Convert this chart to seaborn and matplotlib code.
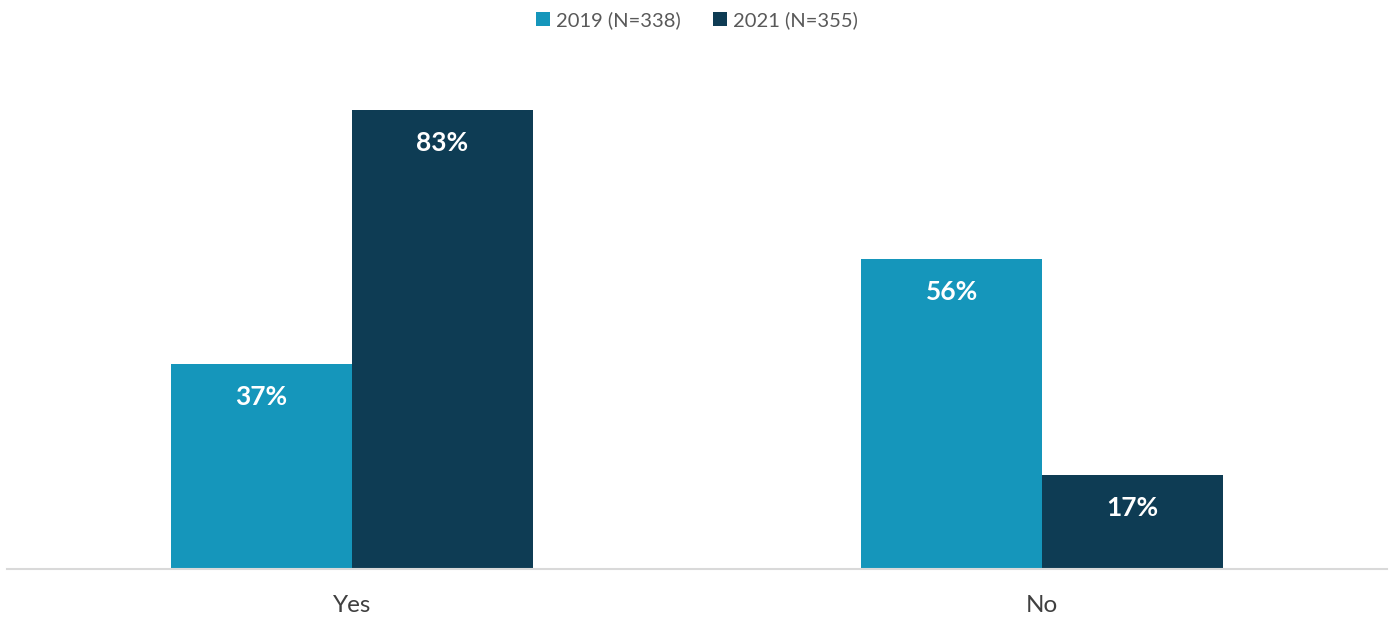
import pandas as pd
import seaborn as sns
import matplotlib.pyplot as plt

# data
answers = ['Yes', 'No']
years = ['2019 (N=338)', '2021 (N=355)']
values_2019 = [37, 56]
values_2021 = [83, 17]

df = pd.DataFrame({
    'answer': answers * 2,
    'year': [years[0]] * 2 + [years[1]] * 2,
    'pct': values_2019 + values_2021,
})

sns.set_theme(style='white')
plt.rcParams['font.family'] = ['Lato', 'DejaVu Sans']

fig = plt.figure(figsize=(13.94, 6.22), dpi=100)
ax = fig.add_axes([7 / 1394, 53 / 622, 1380 / 1394, 553 / 622])

palette = {years[0]: '#1596bb', years[1]: '#0e3c54'}
sns.barplot(data=df, x='answer', y='pct', hue='year', order=answers,
            hue_order=years, palette=palette, width=0.524, saturation=1,
            linewidth=0, ax=ax)

ax.set_xlim(-0.5, 1.5)
ax.set_ylim(0, 100)

# value labels just inside the bar tops
for container in ax.containers:
    texts = ax.bar_label(container, labels=[f'{v:.0f}%' for v in container.datavalues],
                         padding=-23.5, label_type='edge', color='white',
                         fontsize=19, fontweight='bold')
    for t in texts:
        t.set_va('center')

ax.set_xlabel('')
ax.set_ylabel('')
ax.set_yticks([])
ax.tick_params(axis='x', length=0, pad=19, labelsize=17.5, labelcolor='#404040')
for side in ['top', 'left', 'right']:
    ax.spines[side].set_visible(False)
ax.spines['bottom'].set_color('#d9d9d9')
ax.spines['bottom'].set_linewidth(1.5)

ax.legend_.remove()
handles, labels = ax.get_legend_handles_labels()
leg = fig.legend(handles, labels, loc='center', bbox_to_anchor=(0.5, 1 - 20 / 622),
                 ncol=2, frameon=False, fontsize=14.5, handlelength=0.7,
                 handleheight=0.7, handletextpad=0.3, columnspacing=1.6)
for t in leg.get_texts():
    t.set_color('#595959')

fig.savefig('out.png', dpi=100)
